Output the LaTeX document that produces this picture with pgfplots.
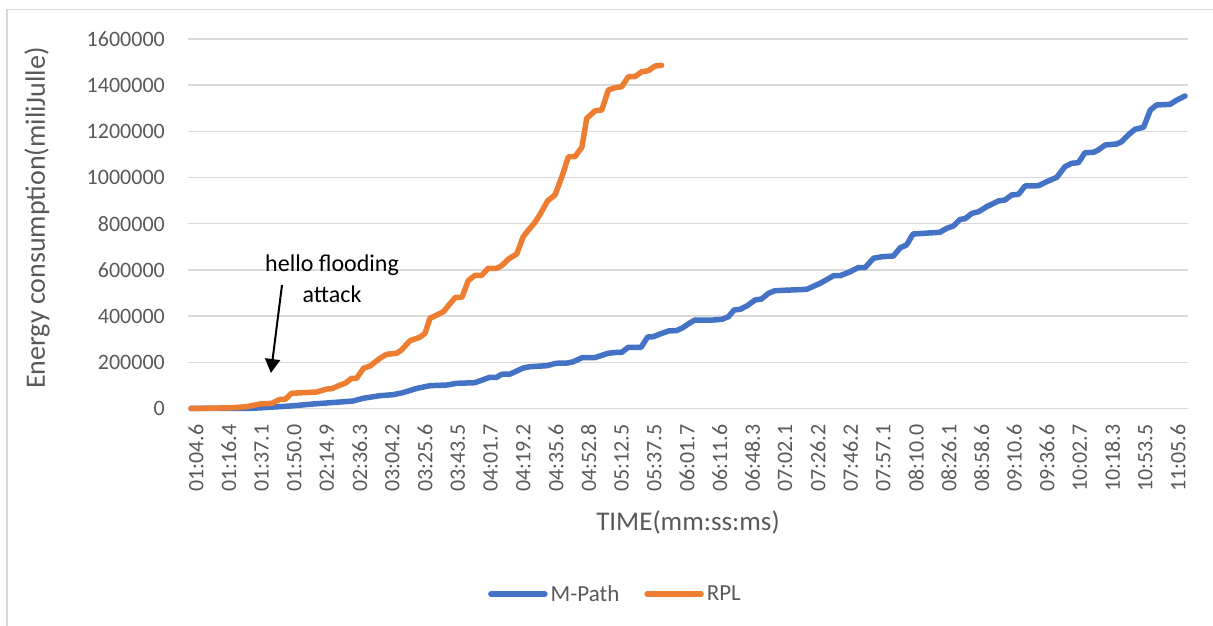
\documentclass[border=0pt]{standalone}
\usepackage{pgfplots}
\pgfplotsset{compat=1.18}
\usepackage{fontspec}
\setmainfont{Carlito}
\newfontfamily\tickfont{Carlito}
\usetikzlibrary{arrows.meta}
\definecolor{mblue}{HTML}{4472C4}
\definecolor{rorange}{HTML}{ED7D31}
\definecolor{txtgray}{HTML}{595959}
\definecolor{gridgray}{HTML}{D9D9D9}
\begin{document}
\begin{tikzpicture}
\useasboundingbox (0,0) rectangle (1213pt,626pt);
\draw[gridgray, line width=1.5pt] (7pt,0pt) -- (7pt,616.5pt) -- (1213pt,616.5pt);
\begin{axis}[
  at={(188pt,217.5pt)}, anchor=south west,
  scale only axis, width=1000pt, height=369.5pt,
  xmin=-0.092, xmax=30.46, ymin=0, ymax=1600000,
  clip=false,
  scaled y ticks=false,
  axis line style={draw=none},
  major tick length=0pt,
  ymajorgrids, grid style={gridgray, line width=1.5pt},
  ytick={0,200000,400000,600000,800000,1000000,1200000,1400000,1600000},
  yticklabels={0,200000,400000,600000,800000,1000000,1200000,1400000,1600000},
  xtick={0,1,2,3,4,5,6,7,8,9,10,11,12,13,14,15,16,17,18,19,20,21,22,23,24,25,26,27,28,29,30},
  xticklabels={01:04.6,01:16.4,01:37.1,01:50.0,02:14.9,02:36.3,03:04.2,03:25.6,03:43.5,04:01.7,04:19.2,04:35.6,04:52.8,05:12.5,05:37.5,06:01.7,06:11.6,06:48.3,07:02.1,07:26.2,07:46.2,07:57.1,08:10.0,08:26.1,08:58.6,09:10.6,09:36.6,10:02.7,10:18.3,10:53.5,11:05.6},
  xticklabel style={xshift=5pt, rotate=90, anchor=east, inner sep=0pt, font=\tickfont\fontsize{22}{22}\selectfont, text=txtgray},
  yticklabel style={anchor=east, inner sep=0pt, font=\tickfont\fontsize{22}{22}\selectfont, text=txtgray},
  xticklabel shift=16pt, yticklabel shift=23pt,
  xlabel={TIME(mm:ss:ms)},
  ylabel={Energy consumption(miliJulle)},
  xlabel style={at={(axis description cs:0.5,-0.3072)}, anchor=center, font=\fontsize{27}{27}\selectfont, text=txtgray},
  ylabel style={at={(axis description cs:-0.151,0.5156)}, anchor=center, font=\fontsize{28}{28}\selectfont, text=txtgray},
  legend style={at={(axis description cs:0.428,-0.502)}, anchor=center, draw=none, fill=none,
    font=\fontsize{23}{23}\selectfont, text=txtgray, legend columns=2,
    /tikz/every even column/.append style={column sep=22pt},
    nodes={inner sep=3pt}},
  legend image code/.code={\draw[#1] (0pt,0pt) -- (54pt,0pt);},
  every axis plot/.append style={line width=5.5pt, line cap=round, line join=round},
]
\addplot[mblue] coordinates {
(0,0) (1.70,0) (2.20,3500) (3.03,10800) (3.73,19500) (4.56,28100) (4.95,32500)
(5.26,44200) (5.77,55400) (6.17,59800) (6.47,68400) (6.91,87500) (7.30,98800)
(7.82,101800) (8.12,109100) (8.67,111700) (9.13,135100) (9.34,135100) (9.49,148100)
(9.75,149400) (10.15,175400) (10.35,181000) (10.87,185300) (11.15,195700) (11.50,197000)
(11.68,202600) (11.96,220800) (12.35,220800) (12.74,239000) (13.02,243300) (13.16,243300)
(13.36,265000) (13.75,265000) (13.95,309600) (14.12,310900) (14.39,325600) (14.59,335600)
(14.84,337700) (15.01,348600) (15.25,371500) (15.40,383200) (15.96,383200) (16.22,386200)
(16.42,397500) (16.59,426500) (16.78,429500) (16.98,443800) (17.23,469800) (17.43,474100)
(17.64,498800) (17.84,510100) (18.81,516100) (19.22,542100) (19.63,575000) (19.83,575000)
(20.14,592300) (20.38,609700) (20.59,609700) (20.85,650400) (21.11,657300) (21.46,660300)
(21.67,696300) (21.86,708000) (22.06,755600) (22.88,763000) (23.09,780300) (23.29,790200)
(23.50,819200) (23.65,821900) (23.86,845200) (24.06,852100) (24.31,873800) (24.66,898500)
(24.87,902800) (25.07,924500) (25.28,927500) (25.48,963400) (25.89,964700) (26.14,982000)
(26.45,1001100) (26.70,1047000) (26.90,1061700) (27.11,1064300) (27.31,1107600) (27.57,1109300)
(27.72,1119300) (27.93,1141000) (28.28,1145300) (28.43,1155300) (28.63,1184200) (28.84,1208900)
(29.10,1217600) (29.31,1292500) (29.50,1314200) (29.91,1317200) (30.12,1335800) (30.37,1353100)
};
\addlegendentry{M-Path}
\addplot[rorange] coordinates {
(0,0) (1.23,3000) (1.70,7800) (2.11,19500) (2.47,22500) (2.72,39800) (2.88,39800)
(3.07,65800) (3.43,68400) (3.84,71400) (4.15,84400) (4.30,85700) (4.56,101800)
(4.71,109100) (4.91,130800) (5.06,130800) (5.27,174100) (5.47,184000) (5.77,217400)
(5.98,234700) (6.28,239000) (6.43,253300) (6.69,293600) (6.99,308300) (7.15,325600)
(7.30,390600) (7.51,404900) (7.71,419100) (8.07,480600) (8.28,481900) (8.47,553400)
(8.67,575900) (8.88,576800) (9.08,607100) (9.34,607100) (9.49,618300) (9.70,647300)
(9.95,669000) (10.15,743900) (10.31,772900) (10.51,806300) (10.67,842200) (10.90,900000)
(11.12,924400) (11.33,1003700) (11.53,1090300) (11.73,1090300) (11.94,1131000) (12.09,1256600)
(12.35,1289500) (12.55,1292500) (12.75,1379100) (12.95,1389100) (13.16,1393400) (13.36,1436700)
(13.56,1436700) (13.77,1458400) (13.97,1462700) (14.18,1483000) (14.38,1486100)
};
\addlegendentry{RPL}
\node[align=center, font=\fontsize{24}{31}\selectfont, text=black] at (axis cs:4.31,562900) {hello flooding\\attack};
\draw[-{Triangle[length=14pt,width=15pt]}, line width=2pt, black] (axis cs:2.78,534800) -- (axis cs:2.44,153700);
\end{axis}
\end{tikzpicture}
\end{document}
